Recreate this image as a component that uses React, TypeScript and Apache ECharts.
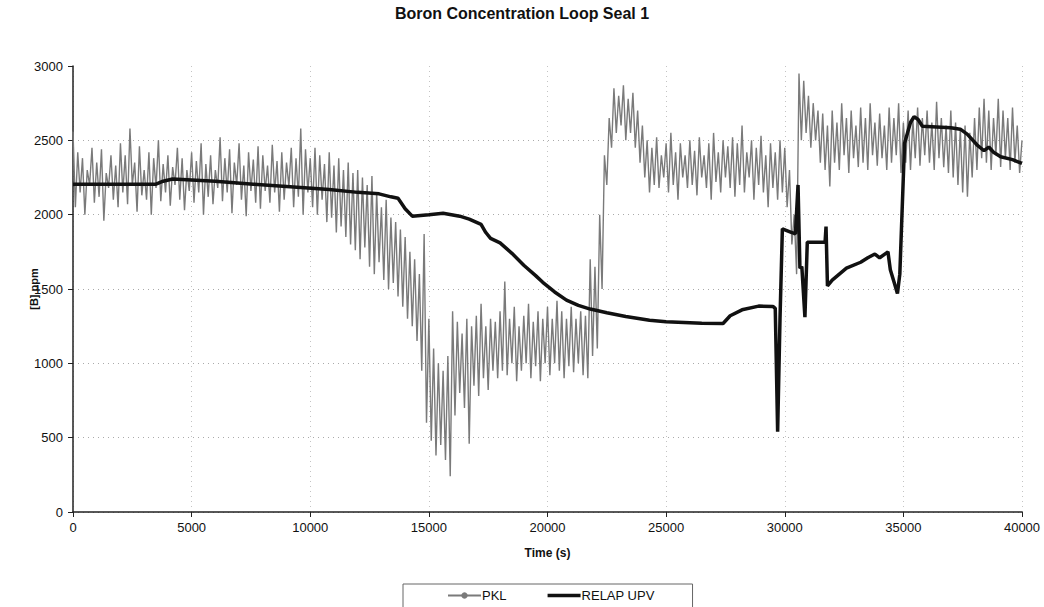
import React, { useEffect, useRef } from "react";
import * as echarts from "echarts";

const titleText = "Boron Concentration Loop Seal 1";
const xTicks = [0, 5000, 10000, 15000, 20000, 25000, 30000, 35000, 40000];
const yTicks = [0, 500, 1000, 1500, 2000, 2500, 3000];

// PKL measurement, read every 100 s (noisy signal: successive high/low readings)
const pklStep = 100;
const pklValues = [
  2560, 2050, 2420, 2150, 2380, 2000, 2300, 2200, 2450, 2080, 2350, 2120, 2440, 1960, 2280, 2180, 2400, 2100, 2330, 2050,
  2480, 2150, 2400, 2070, 2580, 2200, 2350, 2020, 2460, 2130, 2300, 2100, 2420, 2000, 2380, 2180, 2500, 2090, 2340, 2150,
  2400, 2060, 2320, 2200, 2450, 2100, 2380, 2030, 2300, 2160, 2420, 2080, 2360, 2150, 2480, 2000, 2340, 2120, 2400, 2070,
  2300, 2180, 2520, 2090, 2380, 2150, 2440, 2010, 2350, 2200, 2480, 2100, 2330, 1990, 2420, 2160, 2370, 2080, 2460, 2040,
  2400, 2160, 2330, 2080, 2470, 2150, 2360, 2020, 2420, 2100, 2350, 2190, 2450, 2050, 2380, 2120, 2580, 2000, 2440, 2150,
  2380, 2050, 2450, 2000, 2400, 2100, 2340, 1950, 2420, 1980, 2330, 1880, 2380, 1920, 2300, 1850, 2350, 1800, 2280, 1760,
  2300, 1700, 2250, 1780, 2200, 1650, 2260, 1600, 2150, 1680, 2050, 1560, 2100, 1500, 1980, 1540, 1950, 1450, 1900, 1380,
  1850, 1300, 1750, 1250, 1700, 1150, 1600, 950, 1870, 600, 1300, 480, 1100, 380, 1000, 450, 950, 350, 1050, 240,
  1350, 650, 1280, 800, 1200, 700, 1300, 460, 1250, 850, 1320, 780, 1400, 900, 1250, 820, 1300, 950, 1280, 900,
  1350, 950, 1550, 920, 1300, 1000, 1380, 880, 1250, 950, 1320, 1000, 1400, 900, 1280, 980, 1350, 880, 1300, 1000,
  1380, 920, 1300, 1000, 1420, 950, 1350, 900, 1300, 980, 1380, 940, 1300, 1000, 1350, 920, 1320, 900, 1700, 1050,
  1650, 1100, 2000, 1500, 2400, 2200, 2650, 2450, 2850, 2550, 2800, 2600, 2870, 2500, 2780, 2550, 2820, 2450, 2700, 2350,
  2600, 2250, 2500, 2150, 2450, 2200, 2520, 2180, 2400, 2250, 2480, 2150, 2550, 2200, 2420, 2100, 2480, 2250, 2400, 2180,
  2500, 2200, 2430, 2130, 2520, 2250, 2400, 2180, 2480, 2100, 2550, 2220, 2420, 2150, 2500, 2250, 2460, 2180, 2520, 2120,
  2480, 2200, 2600, 2150, 2420, 2250, 2500, 2100, 2450, 2200, 2530, 2150, 2400, 2050, 2480, 2180, 2420, 2100, 2500, 2150,
  2450, 2050, 2300, 1800, 2000, 1600, 2950, 2500, 2900, 2550, 2800, 2450, 2750, 2500, 2700, 2350, 2680, 2300, 2600, 2190,
  2700, 2350, 2620, 2300, 2750, 2400, 2650, 2280, 2700, 2380, 2600, 2320, 2720, 2350, 2650, 2300, 2750, 2400, 2620, 2330,
  2680, 2380, 2600, 2300, 2720, 2350, 2650, 2400, 2750, 2280, 2620, 2350, 2700, 2300, 2640, 2380, 2720, 2330, 2650, 2400,
  2700, 2350, 2620, 2300, 2760, 2380, 2650, 2320, 2600, 2280, 2700, 2250, 2620, 2200, 2580, 2150, 2600, 2120, 2550, 2250,
  2650, 2300, 2720, 2380, 2780, 2350, 2700, 2300, 2650, 2400, 2780, 2320, 2700, 2380, 2650, 2300, 2720, 2350, 2600, 2280,
  2500,
];

// RELAP UPV calculation
const relapTime = [
  0, 3500, 3800, 4200, 6000, 7600, 9000, 10800, 12000, 12900, 13400, 13700,
  14000, 14300, 15000, 15600, 16300, 16700, 17200, 17400, 17600, 18000, 18500,
  19000, 19500, 19800, 20300, 20800, 21300, 21800, 22500, 23300, 24300, 25000,
  26500, 27400, 27700, 28200, 28900, 29500, 29600, 29700, 29800, 29900, 30300,
  30450, 30560, 30640, 30720, 30850, 30950, 31700, 31740, 31800, 32000, 32300,
  32600, 33200, 33500, 33800, 34000, 34350, 34450, 34600, 34750, 34850, 35050,
  35300, 35450, 35620, 35800, 37000, 37400, 37700, 38100, 38400, 38600, 38800,
  39100, 39600, 40000,
];
const relapValue = [
  2205, 2205, 2225, 2240, 2225, 2205, 2190, 2170, 2150, 2140, 2120, 2110,
  2040, 1990, 2000, 2010, 1990, 1970, 1935, 1880, 1840, 1810, 1740,
  1660, 1590, 1545, 1480, 1425, 1390, 1365, 1340, 1315, 1290, 1280,
  1270, 1268, 1320, 1360, 1385, 1383, 1370, 540, 1300, 1905, 1880,
  1870, 2200, 1640, 1650, 1310, 1815, 1815, 1920, 1520, 1560, 1600,
  1640, 1680, 1710, 1735, 1710, 1750, 1630, 1550, 1470, 1600, 2480,
  2620, 2660, 2640, 2595, 2585, 2575, 2540, 2470, 2430, 2455, 2420,
  2390, 2370, 2345,
];

const FONT = "'Liberation Sans', Arial, sans-serif";

export default function App() {
  const ref = useRef<HTMLDivElement>(null);
  useEffect(() => {
    if (!ref.current) return;
    const chart = echarts.init(ref.current, null, { renderer: "svg" });
    const pklData = pklValues.map((v, i) => [i * pklStep, v]);
    const relapData = relapTime.map((t, i) => [t, relapValue[i]]);
    chart.setOption({
      animation: false,
      backgroundColor: "#ffffff",
      textStyle: { fontFamily: FONT },
      title: {
        text: titleText,
        left: "center",
        top: 0,
        textStyle: { fontSize: 16, fontWeight: "bold", color: "#111", fontFamily: FONT },
      },
      grid: { left: 73, right: 22, top: 66, bottom: 95 },
      legend: {
        left: 403,
        top: 584,
        padding: [5, 38, 12, 44],
        itemGap: 41,
        itemWidth: 33,
        itemHeight: 8,
        borderColor: "#666",
        borderWidth: 1,
        textStyle: { fontSize: 13, color: "#111", fontFamily: FONT, padding: [0, 0, 0, -4] },
        data: [
          { name: "PKL" },
          { name: "RELAP UPV", icon: "path://M0,0L33,0L33,3.5L0,3.5Z" },
        ],
      },
      xAxis: {
        type: "value",
        min: 0,
        max: 40000,
        interval: 5000,
        name: "Time (s)",
        nameLocation: "middle",
        nameGap: 35,
        nameMoveOverlap: false,
        nameTextStyle: { fontSize: 12, fontWeight: "bold", color: "#111", fontFamily: FONT },
        axisLine: { show: true, onZero: false, lineStyle: { color: "#222", width: 1.5 } },
        axisTick: { show: true, length: 5, lineStyle: { color: "#222" } },
        axisLabel: {
          fontSize: 13,
          color: "#111",
          margin: 9,
          fontFamily: FONT,
          formatter: (v: number) => (xTicks.includes(v) ? String(v) : ""),
        },
        splitLine: { show: true, lineStyle: { color: "#c4c4c4", type: [1, 4], width: 1 } },
      },
      yAxis: {
        type: "value",
        min: 0,
        max: 3000,
        interval: 500,
        name: "[B] ppm",
        nameLocation: "middle",
        nameGap: 34,
        nameMoveOverlap: false,
        nameTextStyle: { fontSize: 11, fontWeight: "bold", color: "#111", fontFamily: FONT },
        axisLine: { show: true, lineStyle: { color: "#222", width: 1.5 } },
        axisTick: { show: true, length: 5, lineStyle: { color: "#222" } },
        axisLabel: {
          fontSize: 13,
          color: "#111",
          margin: 10,
          fontFamily: FONT,
          formatter: (v: number) => (yTicks.includes(v) ? String(v) : ""),
        },
        splitLine: { show: true, showMaxLine: false, lineStyle: { color: "#aaa", type: [1, 4], width: 1 } },
      },
      series: [
        {
          name: "PKL",
          type: "line",
          data: pklData,
          showSymbol: false,
          symbol: "circle",
          symbolSize: 3,
          lineStyle: { color: "#7a7a7a", width: 1.4 },
          itemStyle: { color: "#7a7a7a" },
          z: 2,
        },
        {
          name: "RELAP UPV",
          type: "line",
          data: relapData,
          showSymbol: false,
          symbol: "none",
          lineStyle: { color: "#111", width: 3.5 },
          itemStyle: { color: "#111" },
          z: 3,
        },
      ],
    });
    return () => chart.dispose();
  }, []);
  return (
    <div
      ref={ref}
      style={{ position: "absolute", left: 0, top: 0, width: 1044, height: 607 }}
    />
  );
}
